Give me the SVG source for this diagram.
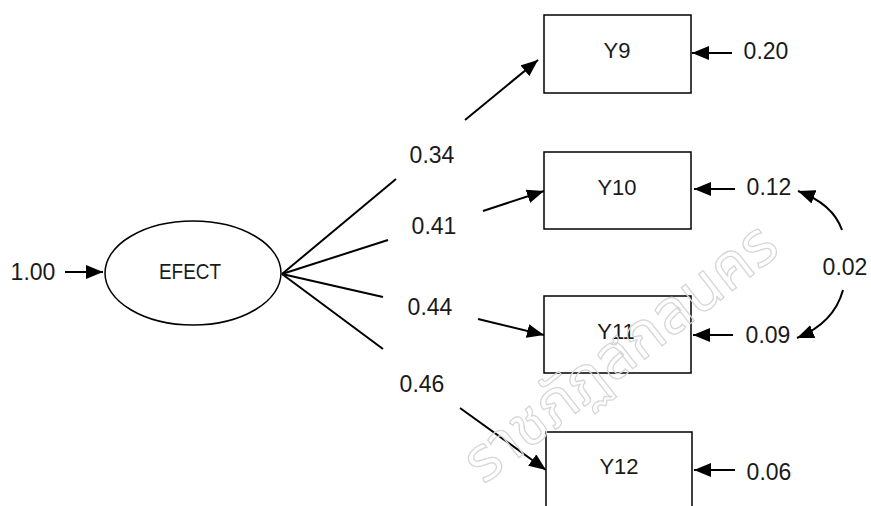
<svg xmlns="http://www.w3.org/2000/svg" width="871" height="506" viewBox="0 0 871 506">
<defs>
<style>
.ln{stroke:#000;stroke-width:2;fill:none}
.bx{stroke:#000;stroke-width:1.5;fill:#fff}
.t{font-family:"Liberation Sans",Arial,sans-serif;font-size:23px;fill:#1a1a1a;text-anchor:middle}
.n{font-family:"Liberation Sans",Arial,sans-serif;font-size:22px;fill:#1a1a1a;text-anchor:middle}
.wm{font-family:"Noto Sans Thai","Noto Sans","DejaVu Sans",sans-serif;font-size:62px;fill:none;stroke:#d6d6d6;stroke-width:1.3}
</style>
<marker id="ah" markerUnits="userSpaceOnUse" markerWidth="18" markerHeight="14" refX="17" refY="7" orient="auto">
<path d="M0,0 L17,7 L0,14 Z" fill="#000"/>
</marker>
</defs>
<rect width="871" height="506" fill="#fff"/>
<g id="connectors">
<line class="ln" x1="65" y1="272" x2="103" y2="272" marker-end="url(#ah)"/>
<path class="ln" d="M282,274 L396,179"/>
<line class="ln" x1="465" y1="120" x2="538" y2="60" marker-end="url(#ah)"/>
<path class="ln" d="M282,274 L388,240"/>
<line class="ln" x1="483" y1="211" x2="544" y2="191" marker-end="url(#ah)"/>
<path class="ln" d="M282,274 L383,297"/>
<line class="ln" x1="478" y1="319" x2="544" y2="335" marker-end="url(#ah)"/>
<path class="ln" d="M282,274 L383,349"/>
<line class="ln" x1="460" y1="408" x2="546" y2="470" marker-end="url(#ah)"/>
<line class="ln" x1="732" y1="53" x2="692" y2="53" marker-end="url(#ah)"/>
<line class="ln" x1="735" y1="189" x2="694" y2="189" marker-end="url(#ah)"/>
<line class="ln" x1="733" y1="335" x2="693" y2="335" marker-end="url(#ah)"/>
<line class="ln" x1="735" y1="470" x2="694" y2="470" marker-end="url(#ah)"/>
<path class="ln" d="M842,230 Q833,204 798,191" marker-end="url(#ah)"/>
<path class="ln" d="M843,290 Q834,323 797,338" marker-end="url(#ah)"/>
</g>
<g id="EFECT">
<ellipse cx="193" cy="273" rx="88" ry="52" class="bx"/>
<text class="n" x="190" y="279" textLength="62" lengthAdjust="spacingAndGlyphs">EFECT</text>
</g>
<g id="Y9">
<rect x="544" y="15" width="147" height="78" class="bx"/>
<text class="n" x="617" y="58">Y9</text>
</g>
<g id="Y10">
<rect x="544" y="152" width="147" height="77" class="bx"/>
<text class="n" x="617" y="195">Y10</text>
</g>
<g id="Y11">
<rect x="544" y="296" width="147" height="77" class="bx"/>
<text class="n" x="616" y="339">Y11</text>
</g>
<g id="Y12">
<rect x="546" y="432" width="146" height="90" class="bx"/>
<text class="n" x="619" y="474">Y12</text>
</g>
<g id="labels">
<text class="t" x="33" y="280">1.00</text>
<text class="t" x="432" y="163">0.34</text>
<text class="t" x="434" y="234">0.41</text>
<text class="t" x="430" y="315">0.44</text>
<text class="t" x="422" y="392">0.46</text>
<text class="t" x="766" y="59">0.20</text>
<text class="t" x="769" y="195">0.12</text>
<text class="t" x="768" y="343">0.09</text>
<text class="t" x="845" y="275">0.02</text>
<text class="t" x="769" y="480">0.06</text>
</g>
<text class="wm" transform="translate(782,252) rotate(-38)" text-anchor="end">ราชภัฏสกลนคร</text>
</svg>
